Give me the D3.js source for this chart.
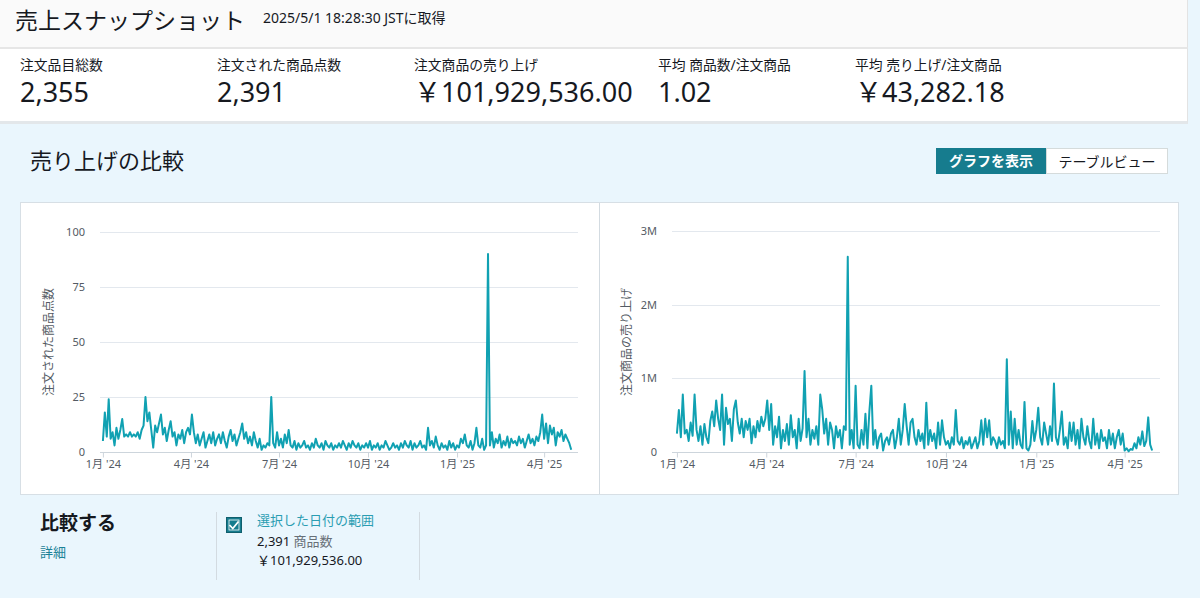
<!DOCTYPE html>
<html>
<head>
<meta charset="utf-8">
<script src="https://cdn.jsdelivr.net/npm/d3@7"></script>
<style>
  body{margin:0;width:1200px;height:598px;overflow:hidden;position:relative;background:#eaf6fd;
       font-family:"Noto Sans","Noto Sans CJK JP",sans-serif;color:#16191f}
  .abs{position:absolute;white-space:nowrap}
  #top{left:0;top:0;width:1187px;height:47px;background:#fafafa;border-right:1px solid #e3e3e3}
  #band{left:0;top:47px;width:1187px;height:72px;background:#fff;border-top:2px solid #e6e6e6;border-bottom:3px solid #e3e7ea;border-right:1px solid #e3e3e3}
  .mlabel{font-size:13.8px;line-height:16px;top:57px}
  .mvalue{font-size:27px;line-height:30px;top:77px}
  .btn{top:148px;height:26px;line-height:26px;font-size:14px;text-align:center;box-sizing:border-box}
  #cards{left:20px;top:202px;width:1159px;height:293px;background:#fff;border:1px solid #d7dfe5;box-sizing:border-box}
  .vdiv{width:1px;background:#d3dbe1}
  svg{position:absolute;left:0;top:0}
</style>
</head>
<body>
<div id="page"></div>
<script>
// --- data (every 2nd day from 2024-01-01) ---
const startDate = new Date(2024, 0, 1);
const stepDays = 2;

// 注文された商品点数
const unitsSold = [
  5, 18, 7, 24, 6, 9, 3, 11, 6, 10, 15, 7, 8, 7, 9, 7,
  8, 7, 9, 6, 10, 12, 25, 14, 18, 10, 2, 12, 9, 13,
  17, 8, 11, 5, 10, 14, 7, 9, 3, 8, 6, 10, 4, 9, 11, 8,
  17, 9, 4, 8, 3, 6, 9, 2, 5, 8, 4, 9, 3, 6, 8,
  4, 9, 5, 2, 7, 10, 5, 8, 3, 6, 9, 13, 6, 9, 4,
  7, 3, 9, 5, 2, 6, 1, 3, 2, 4, 3, 25, 4, 2, 9,
  3, 6, 2, 8, 4, 10, 3, 2, 5, 1, 4, 2, 3, 5, 2, 3,
  1, 4, 2, 6, 3, 2, 4, 1, 5, 3, 2, 4, 1, 3, 2,
  4, 2, 5, 3, 1, 4, 2, 5, 3, 2, 4, 1, 3, 2, 4,
  2, 5, 1, 3, 2, 4, 1, 3, 2, 5, 3, 1, 2, 4, 2, 3,
  1, 4, 2, 5, 3, 2, 5, 1, 4, 2, 3, 5, 2, 3, 1,
  11, 3, 5, 2, 7, 3, 1, 4, 2, 3, 1, 5, 2, 4, 1,
  3, 2, 6, 4, 8, 3, 2, 5, 1, 4, 11, 3, 2, 6, 1, 3,
  90, 3, 9, 2, 6, 4, 8, 2, 5, 3, 7, 2, 6, 4,
  5, 3, 7, 4, 6, 2, 5, 8, 4, 6, 3, 7, 5, 9, 17,
  6, 13, 4, 12, 8, 11, 3, 9, 7, 10, 5, 8, 6, 4, 1
];

// 注文商品の売り上げ (百万円)
const salesMillion = [
  0.25, 0.57, 0.2, 0.78, 0.25, 0.3, 0.15, 0.4, 0.22, 0.78, 0.3, 0.15, 0.35, 0.1, 0.38, 0.2,
  0.12, 0.42, 0.55, 0.35, 0.7, 0.45, 0.3, 0.78, 0.1, 0.6, 0.38, 0.45, 0.15, 0.58,
  0.7, 0.4, 0.25, 0.45, 0.2, 0.42, 0.3, 0.45, 0.12, 0.35, 0.2, 0.42, 0.28, 0.48, 0.35, 0.45,
  0.7, 0.3, 0.65, 0.1, 0.35, 0.2, 0.48, 0.05, 0.3, 0.15, 0.38, 0.1, 0.5, 0.2, 0.3,
  0.05, 0.45, 0.15, 0.32, 1.1, 0.2, 0.45, 0.1, 0.3, 0.18, 0.35, 0.1, 0.78, 0.58, 0.25,
  0.45, 0.1, 0.4, 0.3, 0.05, 0.35, 0.2, 0.3, 0.05, 0.35, 0.3, 2.65, 0.1, 0.3, 0.05,
  0.9, 0.1, 0.05, 0.3, 0.1, 0.52, 0.05, 0.55, 0.9, 0.1, 0.3, 0.05, 0.2, 0.25, 0.02, 0.15,
  0.2, 0.1, 0.25, 0.3, 0.05, 0.2, 0.45, 0.1, 0.3, 0.65, 0.35, 0.1, 0.4, 0.45, 0.2,
  0.1, 0.3, 0.15, 0.25, 0.05, 0.67, 0.1, 0.3, 0.15, 0.25, 0.05, 0.4, 0.1, 0.43, 0.2,
  0.1, 0.15, 0.05, 0.2, 0.1, 0.57, 0.15, 0.1, 0.2, 0.05, 0.15, 0.1, 0.2, 0.05, 0.12, 0.2,
  0.05, 0.15, 0.43, 0.1, 0.45, 0.2, 0.43, 0.1, 0.2, 0.15, 0.05, 0.2, 0.1, 0.15, 0.05,
  1.26, 0.1, 0.55, 0.05, 0.45, 0.1, 0.3, 0.1, 0.05, 0.68, 0.05, 0.02, 0.1, 0.42, 0.15,
  0.3, 0.6, 0.2, 0.1, 0.4, 0.25, 0.1, 0.35, 0.15, 0.93, 0.2, 0.1, 0.3, 0.55, 0.1, 0.2,
  0.05, 0.4, 0.15, 0.4, 0.1, 0.3, 0.05, 0.45, 0.2, 0.1, 0.35, 0.15, 0.05, 0.45,
  0.1, 0.25, 0.05, 0.3, 0.15, 0.2, 0.05, 0.3, 0.1, 0.25, 0.05, 0.2, 0.3, 0.1, 0.25,
  0.02, 0.05, 0.01, 0.04, 0.03, 0.12, 0.05, 0.2, 0.1, 0.28, 0.08, 0.15, 0.47, 0.1, 0.02
];

const xTickDates = ["2024-01-01", "2024-04-01", "2024-07-01", "2024-10-01", "2025-01-01", "2025-04-01"];
const xTickLabels = ["1月 '24", "4月 '24", "7月 '24", "10月 '24", "1月 '25", "4月 '25"];
const unitTicks = [0, 25, 50, 75, 100];
const salesTicks = [0, 1, 2, 3];
const salesTickLabels = ["0", "1M", "2M", "3M"];

const metricLabels = ["注文品目総数", "注文された商品点数", "注文商品の売り上げ", "平均 商品数/注文商品", "平均 売り上げ/注文商品"];
const metricValues = ["2,355", "2,391", "￥101,929,536.00", "1.02", "￥43,282.18"];
const metricX = [20, 217, 414, 658, 855];

const lineColor = "#10a1b2";
const teal = "#167c8e";

// --- page chrome ---
const page = d3.select("#page");
page.append("div").attr("class", "abs").attr("id", "top");
page.append("div").attr("class", "abs").attr("id", "band");
page.append("div").attr("class", "abs")
  .style("left", "15px").style("top", "6px").style("font-size", "23px").style("line-height", "28px")
  .text("売上スナップショット");
page.append("div").attr("class", "abs")
  .style("left", "263px").style("top", "10px").style("font-size", "14px").style("line-height", "16px")
  .text("2025/5/1 18:28:30 JSTに取得");

metricLabels.forEach((m, i) => {
  page.append("div").attr("class", "abs mlabel").style("left", metricX[i] + "px").text(m);
  page.append("div").attr("class", "abs mvalue").style("left", metricX[i] + "px").text(metricValues[i]);
});

page.append("div").attr("class", "abs")
  .style("left", "30px").style("top", "147px").style("font-size", "22px").style("line-height", "26px")
  .text("売り上げの比較");
page.append("div").attr("class", "abs btn")
  .style("left", "936px").style("width", "110px").style("background", teal).style("color", "#fff")
  .style("font-weight", "bold").text("グラフを表示");
page.append("div").attr("class", "abs btn")
  .style("left", "1046px").style("width", "122px").style("background", "#fff")
  .style("border", "1px solid #d5dbdb").text("テーブルビュー");

page.append("div").attr("class", "abs").attr("id", "cards");
page.append("div").attr("class", "abs vdiv").style("left", "599px").style("top", "203px").style("height", "291px");

// compare block
page.append("div").attr("class", "abs")
  .style("left", "40px").style("top", "511px").style("font-size", "19px").style("line-height", "24px")
  .style("font-weight", "bold").text("比較する");
page.append("div").attr("class", "abs")
  .style("left", "40px").style("top", "544px").style("font-size", "13px").style("line-height", "16px")
  .style("color", "#1b8297").text("詳細");
page.append("div").attr("class", "abs vdiv").style("left", "216px").style("top", "512px").style("height", "68px");
page.append("div").attr("class", "abs vdiv").style("left", "419px").style("top", "512px").style("height", "68px");
page.append("div").attr("class", "abs")
  .style("left", "257px").style("top", "512px").style("font-size", "13px").style("line-height", "16px")
  .style("color", "#2a9db2").text("選択した日付の範囲");
const cnt = page.append("div").attr("class", "abs")
  .style("left", "257px").style("top", "533px").style("font-size", "13px").style("line-height", "16px");
cnt.append("span").text("2,391 ");
cnt.append("span").style("color", "#687078").text("商品数");
page.append("div").attr("class", "abs")
  .style("left", "257px").style("top", "552px").style("font-size", "13px").style("line-height", "16px")
  .text("￥101,929,536.00");

// --- charts ---
const svg = d3.select("body").append("svg").attr("width", 1200).attr("height", 598);

// checkbox
svg.append("rect").attr("x", 226.5).attr("y", 517.5).attr("width", 15).attr("height", 15)
  .attr("fill", teal).attr("stroke", "#0f5f6d");
svg.append("path").attr("d", "M229.5 525 L232.8 528.5 L238.5 521.5")
  .attr("fill", "none").attr("stroke", "#fff").attr("stroke-width", 1.8);
svg.append("rect").attr("x", 229).attr("y", 520).attr("width", 10).attr("height", 10)
  .attr("fill", "none").attr("stroke", "#fff").attr("stroke-width", 0.8);

function drawChart({data, xDomain, xRange, yMax, ticks, tickLabels, title, titleX}) {
  const series = data.map((v, i) => ({date: d3.timeDay.offset(startDate, i * stepDays), v}));
  const x = d3.scaleTime().domain(xDomain).range(xRange);
  const y = d3.scaleLinear().domain([0, yMax]).range([452, yMax === 100 ? 232 : 231]);
  const g = svg.append("g");

  g.selectAll(".grid").data(ticks.filter(t => t > 0)).join("line")
    .attr("x1", xRange[0]).attr("x2", xRange[1])
    .attr("y1", d => Math.round(y(d)) + 0.5).attr("y2", d => Math.round(y(d)) + 0.5)
    .attr("stroke", "#e3e8ee").attr("stroke-width", 1);

  const yAxis = g.append("g").attr("transform", `translate(${xRange[0]},0)`)
    .call(d3.axisLeft(y).tickValues(ticks).tickSize(0).tickPadding(15)
      .tickFormat((d, i) => tickLabels[i]));
  yAxis.select(".domain").remove();
  yAxis.selectAll("text").attr("fill", "#545b64").style("font-size", "11px")
    .style("font-family", '"Noto Sans", sans-serif');

  const xAxis = g.append("g").attr("transform", "translate(0,452.5)")
    .call(d3.axisBottom(x).tickValues(xTickDates.map(d => d3.timeParse("%Y-%m-%d")(d)))
      .tickSize(5).tickPadding(3).tickFormat((d, i) => xTickLabels[i]));
  xAxis.select(".domain").attr("stroke", "#cdd5dc").attr("d", `M${xRange[0]},0H${xRange[1]}`);
  xAxis.selectAll(".tick line").attr("stroke", "#cdd5dc");
  xAxis.selectAll("text").attr("fill", "#545b64").style("font-size", "11px")
    .style("font-family", '"Noto Sans","Noto Sans CJK JP", sans-serif');

  g.append("text")
    .attr("transform", `translate(${titleX},342) rotate(-90)`)
    .attr("text-anchor", "middle").attr("dominant-baseline", "middle")
    .attr("fill", "#545b64").style("font-size", "12px")
    .style("font-family", '"Noto Sans CJK JP", sans-serif')
    .text(title);

  const line = d3.line().x(d => x(d.date)).y(d => y(d.v));
  g.append("path").datum(series)
    .attr("d", line).attr("fill", "none")
    .attr("stroke", lineColor).attr("stroke-width", 2).attr("stroke-linejoin", "round");
}

drawChart({
  data: unitsSold,
  xDomain: [new Date(2023, 11, 29), new Date(2025, 4, 6)],
  xRange: [100, 578],
  yMax: 100, ticks: unitTicks, tickLabels: unitTicks.map(String),
  title: "注文された商品点数", titleX: 50
});
drawChart({
  data: salesMillion,
  xDomain: [new Date(2023, 11, 27), new Date(2025, 4, 7)],
  xRange: [672, 1160],
  yMax: 3, ticks: salesTicks, tickLabels: salesTickLabels,
  title: "注文商品の売り上げ", titleX: 628
});
</script>
</body>
</html>
